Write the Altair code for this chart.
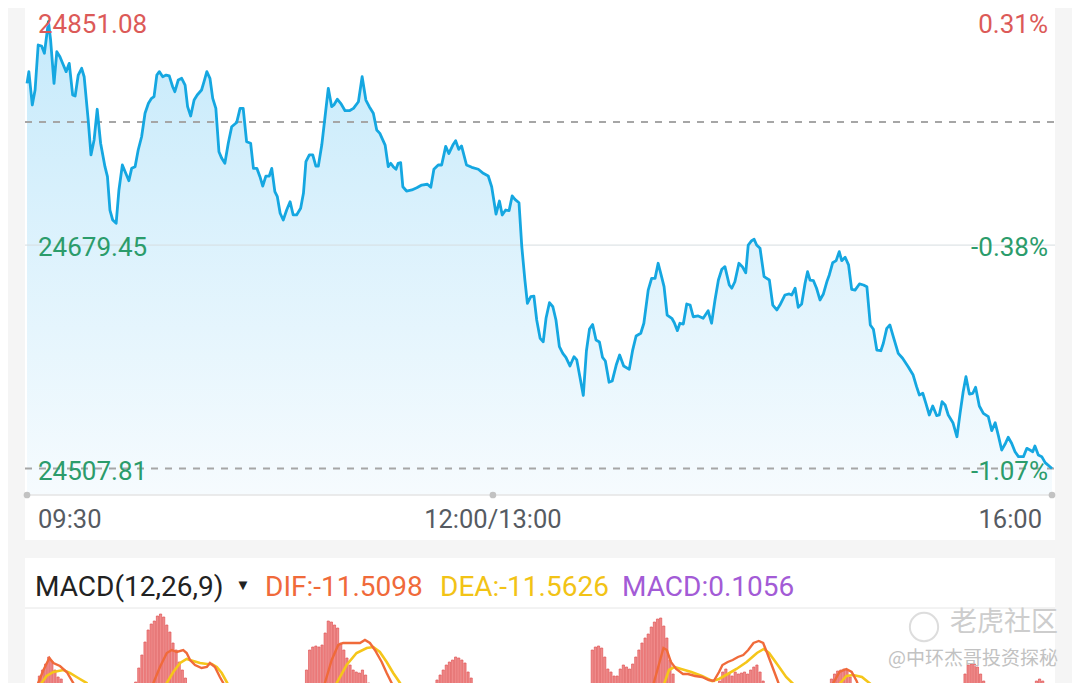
import altair as alt
import pandas as pd

# ---------------- price data (trading minutes since 09:30, lunch removed) ----------------
time_min = [0, 0.6, 1.7, 2.6, 3.6, 4.7, 5.6, 6.9, 7.6, 8.7, 9.6, 10.6, 11.7, 12.6, 13.6, 14.7, 15.5, 16.5, 17.6, 18.4,
            19.7, 20.6, 21.6, 22.6, 23.7, 25.1, 25.9, 26.7, 27.6, 28.7, 29.6, 30.7, 31.8, 32.8, 33.7, 34.8, 35.8, 36.9,
            38.0, 39.1, 40.1, 40.9, 41.8, 42.6, 43.7, 44.8, 45.8, 46.9, 47.6, 48.7, 49.8, 50.9, 51.7, 52.7, 53.8, 54.8,
            56.2, 57.0, 57.9, 58.9, 59.8, 60.8, 61.8, 62.7, 63.7, 64.8, 65.9,
            67.5, 68.6, 69.6, 70.7, 72.0, 72.9, 74.0, 75.0, 75.9, 76.9, 78.0, 78.8, 79.8, 80.6, 81.5, 82.5, 83.6, 84.7,
            85.7, 86.8, 88.1, 89.0, 89.8, 90.9, 92.0, 93.0, 93.8, 94.9, 95.9, 97.0, 98.1, 98.8, 99.9, 101.0, 102.4,
            103.8, 105.1, 106.7, 107.9, 109.1, 110.2, 111.5, 112.6, 113.6, 115.3, 116.3, 117.1, 117.9, 118.8, 119.5,
            120.3, 121.0, 122.2, 123.9, 125.5, 127.1, 128.9, 130.0, 131.0, 132.4, 133.5, 134.8, 135.8, 137.1, 138.0,
            139.0, 139.9, 141.5, 143.2, 145.3, 146.9, 148.5, 149.6,
            151.0, 152.1, 153.0, 154.1, 155.2, 156.2, 157.1, 158.4, 159.3, 160.3, 161.1, 162.2, 163.2, 164.1, 165.2,
            166.2, 167.1, 168.2, 169.3, 170.3, 171.4, 172.5, 173.5, 174.8, 176.1, 177.0, 178.0, 179.1, 180.1, 181.1,
            182.1, 183.2, 184.3, 185.3, 186.2, 187.4, 188.4, 189.7, 190.8, 192.1, 193.9, 195.0, 196.1, 197.6, 198.6,
            200.0, 201.1, 202.2, 203.2, 204.3, 205.1, 206.1, 207.6, 208.4, 209.4, 210.2, 211.3, 212.4, 213.5, 214.5,
            216.1, 217.7, 219.3, 220.4, 221.5, 222.6, 223.7, 224.7, 226.1, 226.9, 227.9, 229.2, 230.3, 231.4, 232.2,
            233.3, 234.1, 234.9, 236.0, 237.3, 239.0, 240.1, 241.4, 242.4, 244.0, 245.4, 246.2, 247.3, 248.3, 249.4,
            250.5, 251.3, 252.1, 253.2, 254.2, 255.3, 256.4, 257.6, 258.3, 259.4, 260.5, 261.5, 262.3, 263.4, 264.5,
            265.5, 266.6, 268.0, 269.3, 270.4, 271.5, 272.5, 273.6, 274.9, 275.7, 276.8, 277.8, 278.9, 280.5, 281.9,
            283.7, 285.3, 286.4, 287.3, 288.4, 289.4, 290.5, 291.6, 292.9, 293.7, 294.6, 295.6, 296.6, 298.1, 299.4,
            300.4, 301.4, 302.3, 303.4, 304.5, 305.4, 306.6, 307.9, 309.5, 310.6, 311.7, 312.7, 313.8, 314.9, 315.9,
            317.0, 318.1, 319.2, 320.8, 321.9, 322.9, 323.8, 324.5, 325.6, 326.7, 327.8, 330]

price = [24803.7, 24812.7, 24787.1, 24798.6, 24833.2, 24832.4, 24826.8, 24851.1, 24837.0, 24803.7, 24828.0, 24824.2,
         24817.8, 24812.7, 24819.1, 24794.8, 24794.0, 24810.1, 24815.3, 24808.8, 24775.6, 24748.7, 24760.2, 24783.8,
         24757.7, 24739.7, 24732.0, 24706.4, 24698.7, 24696.2, 24721.8, 24741.0, 24734.6, 24728.9, 24738.4, 24739.7,
         24752.5, 24762.7, 24780.7, 24788.4, 24792.2, 24793.5, 24810.1, 24812.7, 24808.8, 24810.1, 24809.4, 24801.1,
         24797.3, 24806.3, 24807.6, 24802.4, 24785.8, 24778.6, 24790.9, 24794.8, 24798.6, 24805.0, 24812.7, 24807.6,
         24792.2, 24784.5, 24751.2, 24746.1, 24742.3, 24757.7, 24770.4,
         24773.6, 24784.5, 24784.5, 24758.9, 24757.7, 24738.4, 24738.4, 24732.0, 24724.8, 24732.5, 24732.5, 24738.4,
         24720.5, 24716.6, 24703.9, 24698.7, 24706.4, 24712.8, 24702.6, 24702.6, 24707.7, 24719.2, 24743.5, 24748.7,
         24748.7, 24740.2, 24740.2, 24756.3, 24776.9, 24799.9, 24785.8, 24787.1, 24791.5, 24788.4, 24782.7, 24782.7,
         24784.5, 24789.6, 24808.8, 24790.9, 24785.8, 24780.7, 24767.9, 24765.3, 24756.3, 24739.7, 24742.3, 24739.7,
         24737.7, 24742.3, 24742.8, 24724.3, 24721.0, 24721.8, 24723.5, 24725.6, 24726.2, 24723.9, 24737.7, 24741.0,
         24741.0, 24755.3, 24749.8, 24756.3, 24759.6, 24753.0, 24755.6, 24741.0, 24739.2, 24737.7, 24734.6, 24732.5,
         24724.3,
         24703.3, 24713.3, 24702.6, 24706.4, 24705.9, 24717.2, 24714.6, 24712.0, 24678.2, 24652.6, 24634.7, 24639.8,
         24640.3, 24621.9, 24607.8, 24605.2, 24623.2, 24635.2, 24632.1, 24621.9, 24601.4, 24596.3, 24593.2, 24586.6,
         24593.7, 24591.2, 24578.3, 24563.9, 24598.1, 24615.0, 24618.4, 24606.5, 24605.0, 24593.1, 24590.4, 24574.1,
         24575.0, 24587.3, 24595.0, 24586.6, 24584.0, 24598.8, 24609.6, 24611.7, 24619.4, 24644.9, 24653.9, 24653.9,
         24665.5, 24655.2, 24647.5, 24625.7, 24623.2, 24619.8, 24613.7, 24619.4, 24618.8, 24634.2, 24633.4, 24624.4,
         24625.0, 24623.2, 24629.0, 24619.4, 24637.3, 24652.6, 24660.9, 24662.9, 24648.8, 24646.3, 24651.3, 24665.5,
         24662.9, 24658.2, 24679.5, 24682.8, 24683.9, 24679.5, 24677.0, 24655.2, 24652.6, 24633.4, 24629.6, 24633.4,
         24641.1, 24641.9, 24641.1, 24646.3, 24631.7, 24634.2, 24650.1, 24659.0, 24652.6, 24652.1, 24646.3, 24637.3,
         24641.9, 24651.9, 24656.5, 24665.9, 24667.5, 24674.4, 24667.5, 24670.1, 24664.2, 24645.5, 24644.9, 24649.6,
         24648.8, 24647.5, 24618.1, 24614.8, 24598.8, 24598.3, 24604.0, 24615.5, 24618.1, 24609.1, 24596.3, 24592.5,
         24586.0, 24579.6, 24570.7, 24564.3, 24565.6, 24557.9, 24548.9, 24555.8, 24548.4, 24548.9, 24559.1, 24556.6,
         24548.9, 24543.0, 24532.2, 24550.2, 24566.8, 24578.3, 24565.0, 24565.6, 24570.2, 24555.8, 24550.2, 24547.6,
         24536.9, 24543.0, 24533.5, 24522.0, 24526.6, 24531.8, 24527.2, 24520.7, 24516.9, 24516.9, 24523.3, 24522.0,
         24520.7, 24525.1, 24518.2, 24516.9, 24512.3, 24507.8]

prev_close = 24774.0
area_floor = 24487.4
level_values = [24851.08, 24679.45, 24507.81]
level_labels = ["24851.08", "24679.45", "24507.81"]
pct_labels = ["0.31%", "-0.38%", "-1.07%"]
level_colors = ["#dc5a58", "#2b9c6b", "#2b9c6b"]
tick_minutes = [0, 150, 330]
tick_labels = ["09:30", "12:00/13:00", "16:00"]

# ---------------- MACD panel (values read in panel units) ----------------
macd_t = [4, 5, 6, 7, 8, 9, 10, 11,
          35, 36, 37, 38, 39, 40, 41, 42, 43, 44, 45, 46, 47, 48, 49, 50, 51,
          90, 91, 92, 93, 94, 95, 96, 97, 98, 99, 100, 101, 102, 103, 104, 105, 106, 107, 108, 109, 110,
          132, 133, 134, 135, 136, 137, 138, 139, 140, 141, 142, 143,
          182, 183, 184, 185, 186, 187, 188, 189, 190, 191, 192, 193, 194, 195, 196, 197, 198, 199, 200, 201, 202,
          203, 204, 205, 206, 207, 208,
          223, 224, 225, 226, 227, 228, 229, 230, 231, 232, 233, 234, 235, 236, 237,
          259, 260, 261, 262, 263, 264, 265,
          302, 303, 304, 305, 306, 307, 308,
          325, 326, 327]
macd_v = [12, 15, 18, 21.5, 19.5, 15, 11.5, 10.5,
          9, 16, 22.5, 29, 35, 38, 39.5, 42, 43, 41.5, 37.5, 34, 28.5, 25, 19, 15, 11,
          15, 25, 26.5, 27, 26.5, 27.5, 33.5, 39.5, 39, 37.5, 36, 28.5, 25, 21, 17.5, 15, 14, 13.5, 15, 12.5, 8.5,
          10, 12.5, 15, 17.5, 19, 20, 21.5, 21, 20, 18.5, 14, 11,
          25, 26.5, 27, 26, 21.5, 15.5, 14, 12, 12, 15.5, 17.5, 16.5, 15.5, 18, 21.5, 25, 28.5, 31, 33, 36.5, 39,
          40.5, 41, 37, 31, 20, 13,
          9.5, 14, 15.5, 13, 12, 14, 13, 13.5, 14, 13, 15, 16.5, 17.5, 14, 9.5,
          10.5, 13, 14.5, 15, 15.5, 15, 11.5,
          13, 17.5, 18, 18, 16.5, 13, 9.5,
          9.5, 10.5, 9.5]

dif_seg = [1] * 9 + [2] * 17 + [3] * 14 + [5] * 27 + [6] * 7
dif_t = [2.5, 3.6, 5.3, 7.2, 8.5, 10.6, 12.8, 14.9, 16,
         39.5, 40.7, 42.8, 45, 46.6, 48.2, 50.3, 51.4, 52.5, 54.1, 56.2, 57.9, 58.9, 60.5, 62.1, 63.2, 64.5,
         94.8, 95.9, 98.1, 100.2, 101.8, 105.1, 107.2, 108.8, 110.4, 112, 114.2, 115.8, 117.4, 118.5,
         201, 201.7, 203.4, 204.9, 206, 207.3, 209, 211.2, 212.8, 215.1, 217.3, 219.5, 221.1, 222.8, 223.9, 225.6,
         227.2, 228.9, 230.6, 232.2, 233.9, 235.6, 237, 238.3, 240, 241.7, 242.7,
         259, 259.4, 261.6, 263.8, 265.5, 267.1, 268.2]
dif_v = [4, 8.5, 15, 21, 18.5, 17, 14, 8.5, 4,
         4, 8.5, 16.5, 23.5, 25, 24, 25, 23.5, 20, 17.5, 16, 16.5, 18.5, 16.5, 11.5, 8.5, 4,
         4, 8.5, 20, 27.5, 28.5, 28.5, 28.5, 30, 28.5, 25, 19, 13.5, 8.5, 4,
         4, 8, 17.5, 26, 25, 19, 15.5, 13, 13, 12, 11.5, 10, 9.5, 14, 17.5, 19,
         20, 21.5, 22.5, 25, 28.5, 29.5, 28.5, 23.5, 16.5, 9.5, 5,
         4, 8, 14, 15.5, 14, 9.5, 5]

dea_seg = [1] * 9 + [2] * 13 + [3] * 11 + [5] * 19 + [6] * 7
dea_t = [3.5, 4.7, 6.3, 8.5, 11.7, 13.8, 16.5, 19.2, 20.5,
         43.5, 45, 47.1, 49.3, 51.4, 53.5, 55.7, 57.9, 59.5, 61.1, 62.7, 64.3, 66,
         98.5, 99.7, 102.9, 106.1, 109.4, 111.5, 113.6, 115.8, 117.9, 120.1, 121.5,
         204, 205.1, 206.7, 208.4, 210.6, 213.9, 217.3, 220.6, 222.8, 225.6, 228.4, 231.7, 235, 237.2, 238.9,
         241.7, 244.4, 246.7, 248,
         260.5, 261.6, 263.8, 266, 268.8, 271.6, 273]
dea_v = [4, 8.5, 12, 14, 15, 13.5, 11, 8.5, 5,
         4, 8.5, 14, 18.5, 20.5, 19.5, 18.5, 18, 18, 16.5, 13.5, 9, 4,
         4, 8.5, 17.5, 23.5, 26, 26.5, 24, 19, 13.5, 8.5, 4,
         4, 8, 15, 16.5, 15.5, 14, 12, 9.5, 10.5, 13, 15.5, 19, 23.5, 25.5, 23.5,
         17.5, 11.5, 8, 4,
         4, 8, 12, 12.5, 11.5, 8, 4]

# ---------------- layout ----------------
W, H = 1064, 675
xs = alt.Scale(domain=[0, 330], range=[19, 1044], nice=False, zero=False, padding=0)
ps = alt.Scale(domain=[24507.81, 24851.08], range=[460.5, 13.7], nice=False, zero=False)
ms = alt.Scale(domain=[0, 50], range=[692, 592], nice=False)

n = min(len(time_min), len(price))
price_df = pd.DataFrame({"t": time_min[:n], "v": price[:n]})
mm = min(len(macd_t), len(macd_v))
macd_df = pd.DataFrame({"t": macd_t[:mm], "v": macd_v[:mm]})
m1 = min(len(dif_seg), len(dif_t), len(dif_v))
dif_df = pd.DataFrame({"seg": dif_seg[:m1], "t": dif_t[:m1], "v": dif_v[:m1]})
m2 = min(len(dea_seg), len(dea_t), len(dea_v))
dea_df = pd.DataFrame({"seg": dea_seg[:m2], "t": dea_t[:m2], "v": dea_v[:m2]})
lv_df = pd.DataFrame({"v": level_values, "label": level_labels, "pct": pct_labels, "col": level_colors})
tk_df = pd.DataFrame({"t": tick_minutes, "label": tick_labels})
one = pd.DataFrame({"k": [0]})

X = alt.X("t:Q", scale=xs, axis=None)
YP = alt.Y("v:Q", scale=ps, axis=None, stack=None)
YM = alt.Y("v:Q", scale=ms, axis=None, stack=None)

bg_top = alt.Chart(one).mark_rect(color="white").encode(
    x=alt.value(17), x2=alt.value(1047), y=alt.value(0), y2=alt.value(532))
bg_bot = alt.Chart(one).mark_rect(color="white").encode(
    x=alt.value(17), x2=alt.value(1047), y=alt.value(550), y2=alt.value(H))

grad = alt.Gradient(gradient="linear",
                    stops=[alt.GradientStop(color="#c6eafb", offset=0),
                           alt.GradientStop(color="#f6fbfe", offset=1)],
                    x1=1, x2=1, y1=0, y2=1)
area = alt.Chart(price_df).mark_area(color=grad).encode(x=X, y=YP, y2=alt.datum(area_floor))

mid_rule = alt.Chart(lv_df.iloc[[1]]).mark_rule(color="#d6dde1", strokeWidth=1).encode(
    y=YP, x=alt.value(17), x2=alt.value(1047))
dash_df = pd.DataFrame({"v": [prev_close, level_values[2]]})
dash_rule = alt.Chart(dash_df).mark_rule(color="#a6a6a6", strokeWidth=2, strokeDash=[7, 7]).encode(
    y=YP, x=alt.value(17), x2=alt.value(1047))

line = alt.Chart(price_df).mark_line(color="#15a7e1", strokeWidth=2.8, strokeJoin="round").encode(x=X, y=YP)

left_lab = alt.Chart(lv_df).mark_text(align="left", baseline="alphabetic", dy=11, font="Roboto", fontSize=26).encode(
    x=alt.value(30), y=YP, text="label:N", color=alt.Color("col:N", scale=None))
right_lab = alt.Chart(lv_df).mark_text(align="right", baseline="alphabetic", dy=11, font="Roboto", fontSize=26).encode(
    x=alt.value(1040), y=YP, text="pct:N", color=alt.Color("col:N", scale=None))

axis_line = alt.Chart(one).mark_rule(color="#e4e4e4", strokeWidth=1.5).encode(
    x=alt.value(19), x2=alt.value(1044), y=alt.value(487))
axis_dots = alt.Chart(tk_df).mark_circle(size=45, color="#c2c2c2", opacity=1).encode(x=X, y=alt.value(487))

tick_style = dict(baseline="alphabetic", font="Roboto", fontSize=25.5, color="#565b62")
tl0 = alt.Chart(tk_df.iloc[[0]]).mark_text(align="left", dx=11, **tick_style).encode(x=X, y=alt.value(520), text="label:N")
tl1 = alt.Chart(tk_df.iloc[[1]]).mark_text(align="center", **tick_style).encode(x=X, y=alt.value(520), text="label:N")
tl2 = alt.Chart(tk_df.iloc[[2]]).mark_text(align="right", dx=-10, **tick_style).encode(x=X, y=alt.value(520), text="label:N")

sep = alt.Chart(one).mark_rule(color="#e6e6e6", strokeWidth=1).encode(
    x=alt.value(17), x2=alt.value(1047), y=alt.value(600))

bars = alt.Chart(macd_df).mark_bar(size=2.2, color="#f08a8a", stroke="#df5656", strokeWidth=0.7).encode(
    x=X, y=YM, y2=alt.datum(0))
dea_line = alt.Chart(dea_df).mark_line(color="#f5c61a", strokeWidth=2.6).encode(x=X, y=YM, detail="seg:N")
dif_line = alt.Chart(dif_df).mark_line(color="#f06a3a", strokeWidth=2.4).encode(x=X, y=YM, detail="seg:N")

leg_style = dict(align="left", baseline="alphabetic", font="Roboto", fontSize=28)
t_macd = alt.Chart(one).mark_text(text="MACD(12,26,9)", color="#222222", **leg_style).encode(x=alt.value(27), y=alt.value(588))
t_tri = alt.Chart(one).mark_text(text="▼", color="#222222", align="center", baseline="middle", fontSize=15).encode(
    x=alt.value(235), y=alt.value(577))
t_dif = alt.Chart(one).mark_text(text="DIF:-11.5098", color="#f06a3a", **leg_style).encode(x=alt.value(257), y=alt.value(588))
t_dea = alt.Chart(one).mark_text(text="DEA:-11.5626", color="#f2c316", **leg_style).encode(x=alt.value(432), y=alt.value(588))
t_mv = alt.Chart(one).mark_text(text="MACD:0.1056", color="#a35bd6", **leg_style).encode(x=alt.value(614), y=alt.value(588))

wm_logo = alt.Chart(one).mark_point(shape="circle", size=800, filled=False, color="#cfcfcf", strokeWidth=2).encode(
    x=alt.value(916), y=alt.value(619))
wm1 = alt.Chart(one).mark_text(text="老虎社区", color="#cdcdcd", align="right", baseline="alphabetic",
                               font="Noto Sans CJK SC", fontSize=27).encode(x=alt.value(1050), y=alt.value(623))
wm2 = alt.Chart(one).mark_text(text="@中环杰哥投资探秘", color="#c2c2c2", align="right", baseline="alphabetic",
                               font="Noto Sans CJK SC", fontSize=19).encode(x=alt.value(1050), y=alt.value(657))

chart = alt.layer(
    bg_top, bg_bot, area, mid_rule, dash_rule, line, left_lab, right_lab,
    axis_line, axis_dots, tl0, tl1, tl2, sep, bars, dea_line, dif_line,
    t_macd, t_tri, t_dif, t_dea, t_mv, wm_logo, wm1, wm2
).resolve_scale(y="independent").properties(
    width=W, height=H, padding=0, background="#f5f5f5",
    autosize=alt.AutoSizeParams(type="none")
).configure_view(strokeWidth=0)

chart.save("out.html", embed_options={"renderer": "svg", "actions": False})
